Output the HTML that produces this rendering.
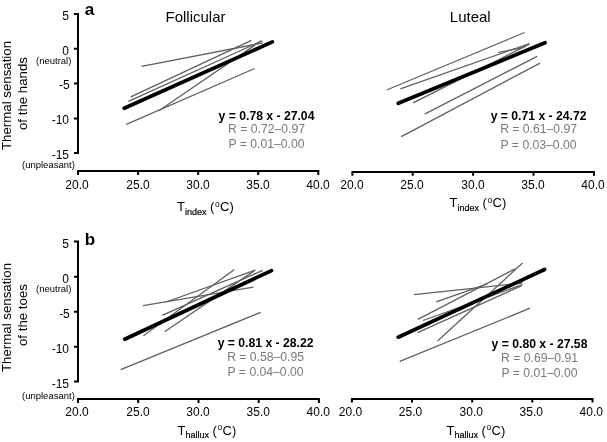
<!DOCTYPE html>
<html><head><meta charset="utf-8">
<style>
html,body{margin:0;padding:0;background:#fff;}
body{width:607px;height:442px;overflow:hidden;}
#r{position:relative;width:607px;height:442px;overflow:hidden;background:#fff;filter:grayscale(1);font-family:"Liberation Sans",sans-serif;color:#000;}
.t{position:absolute;white-space:nowrap;line-height:1;}
.tk{font-size:12px;}
.yl{width:30px;text-align:right;}
.xl{width:40px;text-align:center;}
.sm{font-size:9.5px;color:#000;}
.ttl{font-size:15px;}
.lab{font-size:17px;font-weight:bold;}
.eq{font-size:12.2px;width:120px;text-align:center;}
.eq b{font-weight:bold;color:#000;}
.g{color:#7a7a7a;}
.yt{font-size:13.25px;transform:rotate(-90deg);transform-origin:0 0;}
.xt{font-size:13px;}
.xt .dg{font-size:8.5px;position:relative;top:-4.2px;margin:0 0.3px 0 0.6px;}
.xt sub{font-size:9px;-webkit-text-stroke:0.2px #000;vertical-align:0;position:relative;top:3.5px;}
svg{position:absolute;left:0;top:0;}
</style></head><body><div id="r">
<svg width="607" height="442" viewBox="0 0 607 442">
<g fill="none" stroke="#000" stroke-width="2">
<!-- TL axes -->
<path d="M74 14H78V153H74M74 48.8H78M74 83.6H78M74 118.5H78"/>
<path d="M78 175V171H318.3V175M138.1 171V175M198.2 171V175M258.2 171V175"/>
<!-- TR axes -->
<path d="M352.4 175.8V172H594V175.8M412.7 172V175.8M473.1 172V175.8M533.5 172V175.8"/>
<!-- BL axes -->
<path d="M74 241.5H78V381.5H74M74 276.8H78M74 311.8H78M74 346.7H78"/>
<path d="M78 403V399H318.9V403M138.2 399V403M198.5 399V403M258.7 399V403"/>
<!-- BR axes -->
<path d="M351.9 402.6V399H592.5V402.6M412 399V402.6M472.2 399V402.6M532.3 399V402.6"/>
</g>
<g fill="none" stroke="#606060" stroke-width="1.3">
<!-- TL gray -->
<path d="M141.6 66.4L262.8 42.9"/>
<path d="M130.8 96.9L251.4 40.4"/>
<path d="M128.4 101.3L262 40.9"/>
<path d="M126.3 124.3L254.6 68.5"/>
<path d="M159.2 110.5L261.2 40.8"/>
<!-- TR gray -->
<path d="M386.6 90L524.6 32.5"/>
<path d="M400.3 88.8L529.4 43.6"/>
<path d="M413.1 102.8L529.4 44.2"/>
<path d="M498.4 52.4L524.5 47.2"/>
<path d="M424.6 114.1L537.2 56.3"/>
<path d="M401.3 136.6L540.1 63.1"/>
<!-- BL gray -->
<path d="M143 305.6L253.4 287.1"/>
<path d="M162.2 315.3L262.7 270.3"/>
<path d="M143.4 335.7L234.4 269.5"/>
<path d="M164.6 331.7L255.2 270.1"/>
<path d="M120.7 369.6L260.7 312.3"/>
<path d="M166 302L255.2 270.1"/>
<!-- BR gray -->
<path d="M399.8 361.4L530 308.2"/>
<path d="M414.1 294.7L522.5 283"/>
<path d="M436.2 301.8L487.3 283.8"/>
<path d="M423 320.5L522.4 284.6"/>
<path d="M417.5 332.6L521.4 285.8"/>
<path d="M417.9 319.4L515 268.8"/>
<path d="M437.6 341L522.5 263.1"/>
</g>
<g fill="none" stroke="#000" stroke-width="3.7" stroke-linecap="round">
<path d="M124.2 108.3L272.4 41.9"/>
<path d="M398.3 103.3L545 42.7"/>
<path d="M124.7 339.3L271.5 270.6"/>
<path d="M398.2 337.2L544.6 269.5"/>
</g>
</svg>

<!-- panel labels -->
<div class="t lab" style="left:84.8px;top:1.1px;">a</div>
<div class="t lab" style="left:84.8px;top:230.8px;">b</div>
<div class="t ttl" style="left:165.5px;top:8.6px;">Follicular</div>
<div class="t ttl" style="left:449.8px;top:8.8px;">Luteal</div>

<!-- TL y tick labels -->
<div class="t tk yl" style="left:39px;top:10px;">5</div>
<div class="t tk yl" style="left:39px;top:45px;">0</div>
<div class="t tk yl" style="left:39.7px;top:79.2px;">-5</div>
<div class="t tk yl" style="left:39px;top:114.2px;">-10</div>
<div class="t tk yl" style="left:39px;top:149px;">-15</div>
<div class="t sm" style="left:36px;top:56.3px;">(neutral)</div>
<div class="t sm" style="left:22px;top:159.6px;">(unpleasant)</div>

<!-- BL y tick labels -->
<div class="t tk yl" style="left:39px;top:238px;">5</div>
<div class="t tk yl" style="left:39px;top:273px;">0</div>
<div class="t tk yl" style="left:39.8px;top:307.6px;">-5</div>
<div class="t tk yl" style="left:39px;top:342.5px;">-10</div>
<div class="t tk yl" style="left:39px;top:378px;">-15</div>
<div class="t sm" style="left:36px;top:284px;">(neutral)</div>
<div class="t sm" style="left:22px;top:390.5px;">(unpleasant)</div>

<!-- x tick labels -->
<div class="t tk xl" style="left:57px;top:179px;">20.0</div>
<div class="t tk xl" style="left:118px;top:179px;">25.0</div>
<div class="t tk xl" style="left:178px;top:179px;">30.0</div>
<div class="t tk xl" style="left:238px;top:179px;">35.0</div>
<div class="t tk xl" style="left:298px;top:179px;">40.0</div>

<div class="t tk xl" style="left:332px;top:179px;">20.0</div>
<div class="t tk xl" style="left:392px;top:179px;">25.0</div>
<div class="t tk xl" style="left:453px;top:179px;">30.0</div>
<div class="t tk xl" style="left:513px;top:179px;">35.0</div>
<div class="t tk xl" style="left:573px;top:179px;">40.0</div>

<div class="t tk xl" style="left:57px;top:406px;">20.0</div>
<div class="t tk xl" style="left:118px;top:406px;">25.0</div>
<div class="t tk xl" style="left:178px;top:406px;">30.0</div>
<div class="t tk xl" style="left:238.3px;top:406px;">35.0</div>
<div class="t tk xl" style="left:298.3px;top:406px;">40.0</div>

<div class="t tk xl" style="left:330.5px;top:406px;">20.0</div>
<div class="t tk xl" style="left:390.5px;top:406px;">25.0</div>
<div class="t tk xl" style="left:451.3px;top:406px;">30.0</div>
<div class="t tk xl" style="left:511.3px;top:406px;">35.0</div>
<div class="t tk xl" style="left:571.3px;top:406px;">40.0</div>

<!-- x axis titles -->
<div class="t xt" style="left:177px;top:200px;">T<sub>index</sub> (<span class="dg">o</span>C)</div>
<div class="t xt" style="left:449.5px;top:196px;">T<sub>index</sub> (<span class="dg">o</span>C)</div>
<div class="t xt" style="left:177.5px;top:423.5px;">T<sub>hallux</sub> (<span class="dg">o</span>C)</div>
<div class="t xt" style="left:446.5px;top:423.5px;">T<sub>hallux</sub> (<span class="dg">o</span>C)</div>

<!-- y axis titles -->
<div class="t yt" style="left:0.3px;top:149.8px;">Thermal sensation</div>
<div class="t yt" style="left:15.8px;top:129.5px;">of the hands</div>
<div class="t yt" style="left:0.3px;top:372px;">Thermal sensation</div>
<div class="t yt" style="left:15.8px;top:346px;">of the toes</div>

<!-- equations -->
<div class="t eq" style="left:206.5px;top:109.5px;"><b>y = 0.78 x - 27.04</b></div>
<div class="t eq g" style="left:206.5px;top:123px;">R = 0.72–0.97</div>
<div class="t eq g" style="left:206.5px;top:138px;">P = 0.01–0.00</div>
<div class="t eq" style="left:478.6px;top:109.5px;"><b>y = 0.71 x - 24.72</b></div>
<div class="t eq g" style="left:478.6px;top:123px;">R = 0.61–0.97</div>
<div class="t eq g" style="left:478.6px;top:138.5px;">P = 0.03–0.00</div>
<div class="t eq" style="left:205.6px;top:337px;"><b>y = 0.81 x - 28.22</b></div>
<div class="t eq g" style="left:205.6px;top:351px;">R = 0.58–0.95</div>
<div class="t eq g" style="left:205.6px;top:365.8px;">P = 0.04–0.00</div>
<div class="t eq" style="left:479.5px;top:338px;"><b>y = 0.80 x - 27.58</b></div>
<div class="t eq g" style="left:479.5px;top:352px;">R = 0.69–0.91</div>
<div class="t eq g" style="left:479.5px;top:367px;">P = 0.01–0.00</div>
</div></body></html>
